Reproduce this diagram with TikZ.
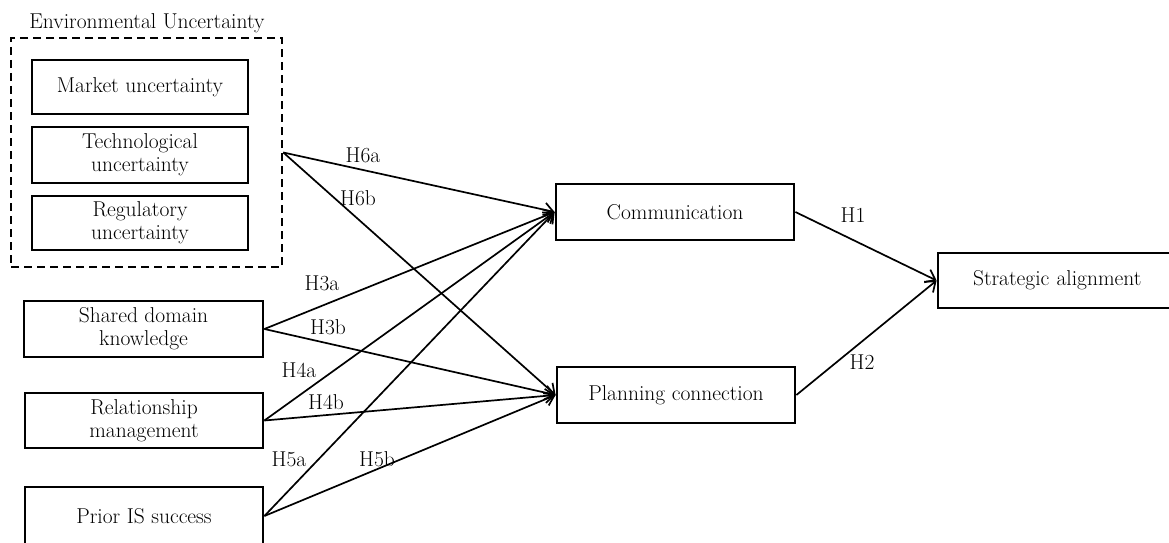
\documentclass[tikz,border=0pt]{standalone}
\usepackage{fontspec}
\usetikzlibrary{arrows.meta}
\tikzset{
  box/.style={draw, line width=2.8pt, align=center, inner sep=0pt, font=\fontsize{21.5}{23}\selectfont},
  grp/.style={draw, dashed, line width=2.6pt, dash pattern=on 8pt off 5pt, inner sep=0pt},
  conn/.style={line width=1.7pt, -{Straight Barb[length=9pt,width=14pt,line width=1.7pt]}},
  hyp/.style={font=\fontsize{21.5}{23}\selectfont, inner sep=0pt},
}
\begin{document}
\begin{tikzpicture}[x=1pt,y=-1pt]
\useasboundingbox (0,0) rectangle (1169,543);
% environmental uncertainty group
\node[grp, minimum width=271pt, minimum height=229pt] (env) at (146.5,152.5) {};
\node[hyp] (envt) at (147,23) {Environmental Uncertainty};
\node[box, minimum width=216pt, minimum height=54pt] (mkt) at (140,87) {Market uncertainty};
\node[box, minimum width=216pt, minimum height=56pt] (tech) at (140,155) {Technological\\uncertainty};
\node[box, minimum width=216pt, minimum height=54pt] (reg) at (140,223) {Regulatory\\uncertainty};
% other antecedents
\node[box, minimum width=239pt, minimum height=56pt] (sdk) at (143.5,329) {Shared domain\\knowledge};
\node[box, minimum width=238pt, minimum height=55pt] (rm) at (144,420.5) {Relationship\\management};
\node[box, minimum width=238pt, minimum height=58pt] (pis) at (144,516) {Prior IS success};
% mediators
\node[box, minimum width=238pt, minimum height=56pt] (com) at (675,212) {Communication};
\node[box, minimum width=238pt, minimum height=56pt] (pc) at (676,395) {Planning connection};
% outcome
\node[box, minimum width=240pt, minimum height=55pt, text width=240pt, align=left] (sa) at (1058,280.5) {\hspace{35pt}Strategic alignment};
% connectors
\draw[conn] (env.east) -- (com.west);
\draw[conn] (env.east) -- (pc.west);
\draw[conn] (sdk.east) -- (com.west);
\draw[conn] (sdk.east) -- (pc.west);
\draw[conn] (rm.east) -- (com.west);
\draw[conn] (rm.east) -- (pc.west);
\draw[conn] (pis.east) -- (com.west);
\draw[conn] (pis.east) -- (pc.west);
\draw[conn] (com.east) -- (sa.west);
\draw[conn] (pc.east) -- (sa.west);
% labels
\node[hyp] (h6a) at (363,155) {H\oldstylenums{6}a};
\node[hyp] (h6b) at (358,198) {H\oldstylenums{6}b};
\node[hyp] (h3a) at (322,283) {H\oldstylenums{3}a};
\node[hyp] (h3b) at (328,327) {H\oldstylenums{3}b};
\node[hyp] (h4a) at (299,370) {H\oldstylenums{4}a};
\node[hyp] (h4b) at (326,402) {H\oldstylenums{4}b};
\node[hyp] (h5a) at (289,459) {H\oldstylenums{5}a};
\node[hyp] (h5b) at (377,459) {H\oldstylenums{5}b};
\node[hyp] (h1) at (853,215) {H\oldstylenums{1}};
\node[hyp] (h2) at (862,362) {H\oldstylenums{2}};
\end{tikzpicture}
\end{document}
